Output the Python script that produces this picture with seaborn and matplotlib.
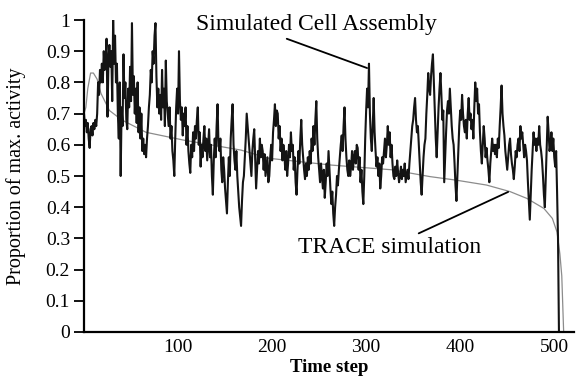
import matplotlib
matplotlib.use("Agg")
import matplotlib.pyplot as plt
import seaborn as sns
import numpy as np
import pandas as pd

# ---------------- data ----------------
# Simulated Cell Assembly (noisy series), one value per time step 0..505
cell_v = [
    # 0-19
    0.70, 0.66, 0.68, 0.64, 0.67, 0.62, 0.59, 0.65, 0.66, 0.63,
    0.67, 0.65, 0.68, 0.66, 0.70, 0.80, 0.76, 0.84, 0.80, 0.86,
    # 20-39
    0.80, 0.90, 0.84, 0.88, 0.94, 0.69, 0.87, 0.92, 0.85, 0.90,
    0.74, 1.00, 0.86, 0.95, 0.80, 0.86, 0.70, 0.62, 0.80, 0.50,
    # 40-59
    0.72, 0.66, 0.89, 0.75, 0.80, 0.68, 0.65, 0.78, 0.72, 0.85,
    0.74, 0.99, 0.76, 0.82, 0.70, 0.78, 0.67, 0.80, 0.64, 0.72,
    # 60-79
    0.62, 0.70, 0.58, 0.62, 0.57, 0.60, 0.56, 0.62, 0.66, 0.72,
    0.76, 0.84, 0.80, 0.90, 0.86, 0.95, 0.99, 0.82, 0.72, 0.78,
    # 80-99
    0.70, 0.76, 0.68, 0.84, 0.72, 0.78, 0.66, 0.87, 0.74, 0.70,
    0.66, 0.72, 0.62, 0.66, 0.58, 0.55, 0.50, 0.62, 0.72, 0.78,
    # 100-119
    0.70, 0.90, 0.74, 0.68, 0.72, 0.63, 0.70, 0.66, 0.72, 0.60,
    0.66, 0.58, 0.54, 0.51, 0.60, 0.56, 0.64, 0.58, 0.66, 0.62,
    # 120-139
    0.68, 0.72, 0.60, 0.64, 0.53, 0.60, 0.56, 0.62, 0.66, 0.58,
    0.62, 0.55, 0.60, 0.65, 0.56, 0.60, 0.50, 0.44, 0.55, 0.62,
    # 140-159
    0.56, 0.66, 0.73, 0.60, 0.58, 0.62, 0.52, 0.48, 0.56, 0.52,
    0.46, 0.42, 0.38, 0.48, 0.56, 0.50, 0.62, 0.68, 0.73, 0.60,
    # 160-179
    0.55, 0.52, 0.58, 0.50, 0.45, 0.40, 0.37, 0.34, 0.42, 0.48,
    0.50, 0.56, 0.62, 0.70, 0.66, 0.62, 0.58, 0.54, 0.50, 0.58,
    # 180-199
    0.62, 0.65, 0.55, 0.46, 0.52, 0.58, 0.54, 0.62, 0.56, 0.60,
    0.58, 0.52, 0.57, 0.50, 0.53, 0.56, 0.48, 0.50, 0.56, 0.60,
    # 200-219
    0.55, 0.64, 0.68, 0.73, 0.66, 0.71, 0.70, 0.62, 0.66, 0.58,
    0.62, 0.55, 0.60, 0.57, 0.52, 0.58, 0.50, 0.54, 0.60, 0.56,
    # 220-239
    0.64, 0.58, 0.60, 0.52, 0.56, 0.48, 0.44, 0.52, 0.58, 0.54,
    0.62, 0.68, 0.60, 0.56, 0.52, 0.49, 0.54, 0.50, 0.56, 0.52,
    # 240-259
    0.58, 0.54, 0.62, 0.58, 0.66, 0.60, 0.68, 0.74, 0.62, 0.56,
    0.52, 0.48, 0.54, 0.50, 0.46, 0.52, 0.43, 0.48, 0.54, 0.50,
    # 260-279
    0.58, 0.52, 0.46, 0.41, 0.45, 0.38, 0.34, 0.40, 0.44, 0.50,
    0.47, 0.52, 0.56, 0.60, 0.63, 0.58, 0.66, 0.72, 0.62, 0.56,
    # 280-299
    0.52, 0.50, 0.55, 0.50, 0.53, 0.58, 0.52, 0.56, 0.58, 0.54,
    0.60, 0.59, 0.52, 0.56, 0.48, 0.52, 0.45, 0.41, 0.50, 0.62,
    # 300-319
    0.71, 0.78, 0.72, 0.86, 0.70, 0.62, 0.58, 0.66, 0.75, 0.64,
    0.58, 0.53, 0.56, 0.50, 0.54, 0.46, 0.50, 0.56, 0.54, 0.58,
    # 320-339
    0.62, 0.56, 0.60, 0.66, 0.60, 0.64, 0.56, 0.60, 0.54, 0.50,
    0.49, 0.53, 0.50, 0.55, 0.51, 0.48, 0.50, 0.53, 0.49, 0.52,
    # 340-359
    0.50, 0.54, 0.48, 0.50, 0.52, 0.49, 0.54, 0.58, 0.62, 0.66,
    0.68, 0.72, 0.75, 0.68, 0.64, 0.66, 0.60, 0.54, 0.48, 0.44,
    # 360-379
    0.50, 0.56, 0.60, 0.62, 0.70, 0.76, 0.83, 0.78, 0.76, 0.82,
    0.86, 0.89, 0.80, 0.71, 0.62, 0.56, 0.64, 0.72, 0.78, 0.83,
    # 380-399
    0.76, 0.68, 0.71, 0.48, 0.56, 0.64, 0.71, 0.74, 0.70, 0.78,
    0.72, 0.66, 0.62, 0.60, 0.54, 0.47, 0.42, 0.50, 0.58, 0.66,
    # 400-419
    0.71, 0.68, 0.76, 0.70, 0.66, 0.64, 0.68, 0.62, 0.70, 0.75,
    0.68, 0.70, 0.65, 0.68, 0.62, 0.72, 0.80, 0.74, 0.78, 0.70,
    # 420-439
    0.73, 0.64, 0.58, 0.54, 0.60, 0.66, 0.62, 0.56, 0.59, 0.55,
    0.52, 0.48, 0.54, 0.58, 0.62, 0.58, 0.60, 0.57, 0.60, 0.56,
    # 440-459
    0.62, 0.59, 0.66, 0.72, 0.79, 0.70, 0.66, 0.63, 0.58, 0.55,
    0.52, 0.56, 0.60, 0.62, 0.57, 0.54, 0.52, 0.49, 0.53, 0.58,
    # 460-479
    0.56, 0.60, 0.62, 0.58, 0.66, 0.62, 0.64, 0.60, 0.56, 0.60,
    0.58, 0.55, 0.48, 0.42, 0.36, 0.44, 0.52, 0.58, 0.64, 0.60,
    # 480-499
    0.62, 0.58, 0.62, 0.60, 0.66, 0.60, 0.58, 0.55, 0.50, 0.44,
    0.40, 0.50, 0.60, 0.69, 0.64, 0.58, 0.60, 0.64, 0.58, 0.62,
    # 500-505
    0.56, 0.53, 0.58, 0.45, 0.30, 0.00,
]
cell_t = list(range(len(cell_v)))

# TRACE simulation (smooth curve)
trace_t = [0, 2, 4, 7, 10, 14, 18, 27, 40, 66, 106, 167, 196, 263, 327,
           368, 395, 428, 453, 471, 489, 498, 503, 506, 508, 510]
trace_v = [0.70, 0.72, 0.78, 0.83, 0.83, 0.81, 0.765, 0.71, 0.68, 0.64,
           0.615, 0.583, 0.557, 0.535, 0.52, 0.498, 0.487, 0.471, 0.45,
           0.428, 0.396, 0.364, 0.32, 0.25, 0.18, 0.0]

x_ticks = [100, 200, 300, 400, 500]
y_ticks = [0, 0.1, 0.2, 0.3, 0.4, 0.5, 0.6, 0.7, 0.8, 0.9, 1.0]
y_tick_labels = ["0", "0.1", "0.2", "0.3", "0.4", "0.5", "0.6", "0.7",
                 "0.8", "0.9", "1"]

# ---------------- plot ----------------
sns.set_theme(style="white")
plt.rcParams['font.family'] = ['Liberation Serif', 'DejaVu Serif']

W, H = 576, 378
fig = plt.figure(figsize=(W / 100, H / 100), dpi=100)
ax = fig.add_axes([84 / W, 46 / H, (574 - 84) / W, (332 - 20) / H])

trace_df = pd.DataFrame({"t": trace_t, "v": trace_v})
cell_df = pd.DataFrame({"t": cell_t, "v": cell_v})

sns.lineplot(data=trace_df, x="t", y="v", ax=ax, color="#8c8c8c",
             linewidth=0.9, estimator=None, sort=False)
sns.lineplot(data=cell_df, x="t", y="v", ax=ax, color="#141414",
             linewidth=1.5, estimator=None, sort=False)

ax.set_xlim(0, 521)
ax.set_ylim(0, 1)
ax.set_xticks(x_ticks)
ax.set_xticklabels([str(v) for v in x_ticks])
ax.set_yticks(y_ticks)
ax.set_yticklabels(y_tick_labels)

for s in ["top", "right"]:
    ax.spines[s].set_visible(False)
for s in ["left", "bottom"]:
    ax.spines[s].set_color("black")
    ax.spines[s].set_linewidth(1.6)

ax.tick_params(axis="y", direction="out", length=7, width=1.3,
               color="black", labelsize=14, pad=3, left=True)
ax.tick_params(axis="x", length=0, labelsize=14, pad=5)
for lab in ax.get_xticklabels() + ax.get_yticklabels():
    lab.set_color("black")

ax.set_xlabel("Time step", fontsize=13.5, fontweight="bold", color="black")
ax.set_ylabel("Proportion of max. activity", fontsize=14.5, color="black")
ax.xaxis.set_label_coords(0.5, -0.085)
ax.yaxis.set_label_coords(-0.118, 0.5)

ax.annotate("Simulated Cell Assembly", xy=(301, 0.846), xytext=(247, 0.984),
            textcoords="data", ha="center", va="center", fontsize=17,
            color="black", annotation_clip=False,
            arrowprops=dict(arrowstyle="-", color="black", lw=1.3,
                            shrinkA=0, shrinkB=0, relpos=(0.34, 0.0)))
ax.annotate("TRACE simulation", xy=(451, 0.449), xytext=(325, 0.272),
            textcoords="data", ha="center", va="center", fontsize=17,
            color="black", annotation_clip=False,
            arrowprops=dict(arrowstyle="-", color="black", lw=1.3,
                            shrinkA=0, shrinkB=0, relpos=(0.62, 1.0)))

fig.savefig("out.png", dpi=100, facecolor="white")
